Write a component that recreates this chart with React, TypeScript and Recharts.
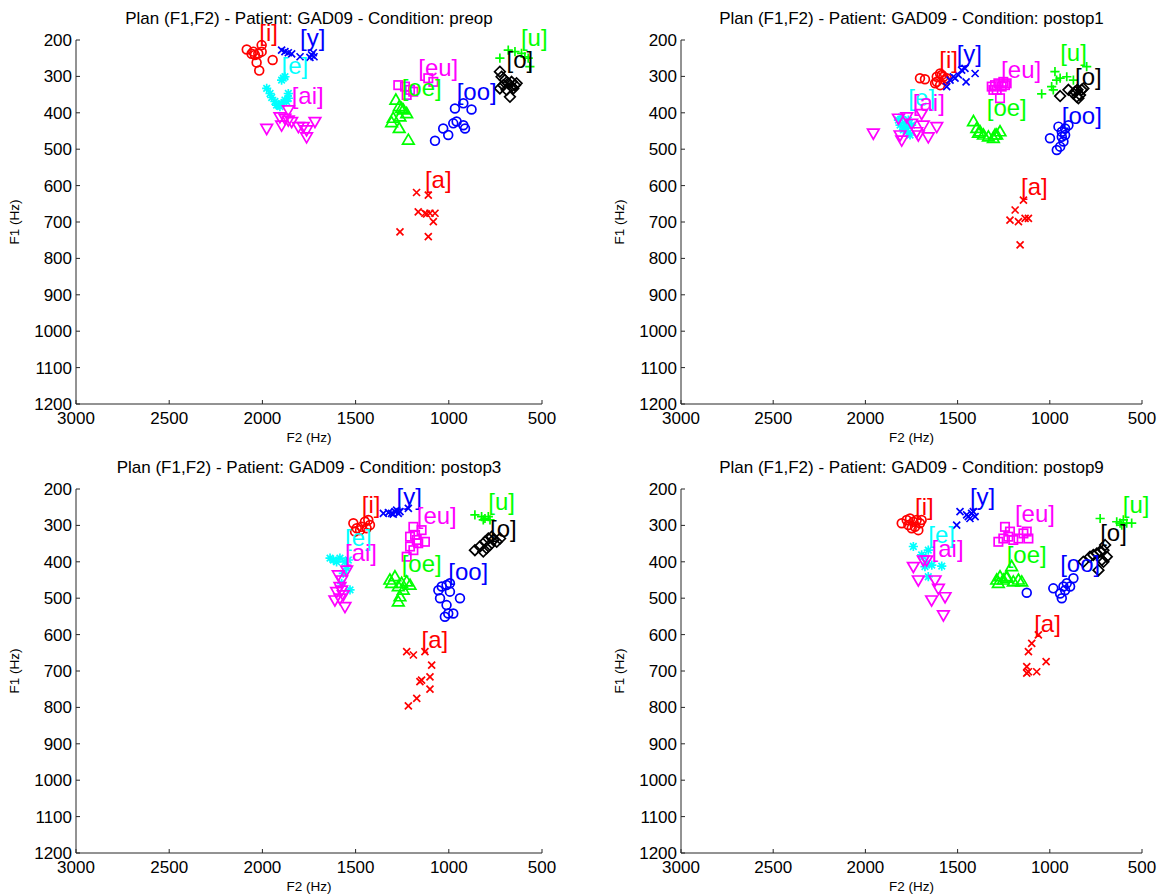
import React from 'react';
import { ScatterChart, Scatter, XAxis, YAxis, ReferenceDot } from 'recharts';

type Pt = [number, number]; // [F2, F1]
type Lbl = [string, number, number]; // [vowel, F2, F1]

const F2_TICKS = [3000, 2500, 2000, 1500, 1000, 500];
const F1_TICKS = [200, 300, 400, 500, 600, 700, 800, 900, 1000, 1100, 1200];
const PATIENT = 'GAD09';
const CONDITIONS = ['preop', 'postop1', 'postop3', 'postop9'];

// ---------- preop ----------
const PREOP_I: Pt[] = [[2084,226],[2049,232],[2022,237],[2004,214],[2040,241],[2004,232],[2031,262],[2017,284],[1945,255],[2058,238]];
const PREOP_Y: Pt[] = [[1897,228],[1879,232],[1861,235],[1843,238],[1798,246],[1736,241],[1727,235],[1723,246],[1745,248]];
const PREOP_E: Pt[] = [[1888,305],[1879,301],[1897,310],[1977,333],[1959,347],[1950,358],[1933,369],[1915,379],[1897,374],[1879,365],[1861,347],[1861,360],[1906,383],[1924,379],[1870,369]];
const PREOP_AI: Pt[] = [[1977,443],[1906,411],[1897,434],[1861,392],[1879,415],[1843,424],[1807,438],[1781,438],[1763,466],[1763,447],[1718,424],[1861,420]];
const PREOP_EU: Pt[] = [[1271,324],[1235,328],[1208,337],[1110,305],[1083,315],[1226,351],[1191,342]];
const PREOP_OE: Pt[] = [[1284,365],[1266,383],[1244,392],[1226,402],[1262,411],[1307,427],[1266,443],[1217,475],[1253,388],[1298,415]];
const PREOP_A: Pt[] = [[1173,619],[1110,626],[1164,672],[1128,676],[1101,676],[1074,676],[1083,699],[1262,727],[1110,740],[1119,678]];
const PREOP_OO: Pt[] = [[967,388],[922,374],[878,391],[958,424],[922,434],[913,443],[1030,443],[1003,461],[1074,477],[976,429]];
const PREOP_O: Pt[] = [[726,287],[717,301],[699,310],[681,319],[663,328],[645,324],[708,324],[690,337],[726,333],[672,356],[654,333],[636,319],[663,315]];
const PREOP_U: Pt[] = [[726,250],[681,228],[610,237],[574,250],[565,273],[592,246],[645,232]];
const PREOP_LABELS: Lbl[] = [['i',2017,186],['y',1798,198],['e',1897,275],['ai',1843,358],['eu',1164,281],['oe',1253,337],['oo',958,347],['u',613,198],['o',690,260],['a',1128,589]];

// ---------- postop1 ----------
const POST1_I: Pt[] = [[1704,305],[1677,308],[1613,315],[1595,292],[1577,301],[1622,319],[1595,324],[1568,310],[1559,305],[1613,301],[1586,296]];
const POST1_Y: Pt[] = [[1559,328],[1541,310],[1514,305],[1496,296],[1478,283],[1460,278],[1454,315],[1405,292],[1523,301]];
const POST1_E: Pt[] = [[1821,420],[1812,434],[1785,429],[1776,443],[1767,456],[1758,461],[1749,434],[1803,411],[1794,447],[1767,420]];
const POST1_AI: Pt[] = [[1957,456],[1821,415],[1812,461],[1803,475],[1776,411],[1749,429],[1713,461],[1695,402],[1686,434],[1659,466],[1613,438],[1722,452]];
const POST1_EU: Pt[] = [[1315,328],[1297,324],[1279,319],[1252,315],[1234,319],[1261,328],[1306,337],[1270,360],[1288,337],[1243,324]];
const POST1_OE: Pt[] = [[1414,424],[1396,443],[1378,452],[1360,461],[1333,466],[1306,470],[1288,461],[1270,452],[1297,461],[1387,456]];
const POST1_A: Pt[] = [[1143,640],[1188,667],[1216,695],[1170,699],[1134,690],[1116,690],[1161,763]];
const POST1_OO: Pt[] = [[999,470],[953,438],[935,452],[917,443],[899,434],[935,466],[926,479],[944,493],[962,502],[917,461]];
const POST1_O: Pt[] = [[944,354],[899,337],[872,347],[850,337],[836,351],[845,360],[827,337],[818,333],[854,356],[863,342]];
const POST1_U: Pt[] = [[1044,348],[990,328],[972,287],[963,310],[944,305],[908,301],[872,310],[800,273],[981,337]];
const POST1_LABELS: Lbl[] = [['i',1599,260],['y',1505,244],['eu',1264,287],['u',944,241],['o',863,305],['oo',935,412],['oe',1342,392],['e',1767,363],['ai',1743,377],['a',1156,608]];

// ---------- postop3 ----------
const POST3_I: Pt[] = [[1512,294],[1494,308],[1468,304],[1450,290],[1432,285],[1423,299],[1441,308],[1476,313],[1503,317]];
const POST3_Y: Pt[] = [[1351,267],[1324,265],[1307,267],[1289,262],[1271,267],[1280,258],[1262,262],[1217,253],[1298,269]];
const POST3_E: Pt[] = [[1637,390],[1619,395],[1584,390],[1557,400],[1548,418],[1566,432],[1530,477],[1575,459],[1539,395],[1602,400]];
const POST3_AI: Pt[] = [[1593,436],[1575,450],[1584,468],[1602,482],[1566,491],[1611,505],[1557,523],[1584,500],[1548,423],[1575,478]];
const POST3_EU: Pt[] = [[1190,304],[1146,313],[1208,331],[1181,326],[1128,345],[1164,349],[1190,368],[1226,386],[1172,340],[1208,358]];
const POST3_OE: Pt[] = [[1316,450],[1289,441],[1271,468],[1253,459],[1226,455],[1208,464],[1244,478],[1262,496],[1271,510],[1307,459]];
const POST3_A: Pt[] = [[1226,647],[1190,656],[1128,647],[1092,684],[1146,725],[1155,729],[1101,716],[1101,750],[1172,775],[1217,796]];
const POST3_OO: Pt[] = [[1056,478],[1038,468],[1012,464],[994,459],[1047,500],[994,482],[940,500],[1012,519],[1003,542],[976,542],[1021,551]];
const POST3_O: Pt[] = [[860,368],[833,358],[815,372],[806,345],[788,336],[779,354],[761,340],[743,345],[725,336],[770,331],[797,363]];
const POST3_U: Pt[] = [[860,271],[824,276],[806,281],[788,276],[779,285],[815,285]];
const POST3_LABELS: Lbl[] = [['i',1467,247],['y',1280,226],['eu',1172,278],['u',788,241],['o',779,313],['e',1557,340],['ai',1557,381],['oe',1253,409],['oo',1003,432],['a',1146,619]];

// ---------- postop9 ----------
const POST9_I: Pt[] = [[1803,294],[1776,285],[1758,281],[1740,290],[1722,285],[1704,294],[1731,304],[1749,308],[1713,313],[1695,285],[1767,299]];
const POST9_Y: Pt[] = [[1487,262],[1505,299],[1442,276],[1424,267],[1415,262],[1405,276],[1433,281],[1451,271]];
const POST9_E: Pt[] = [[1740,358],[1659,368],[1686,386],[1668,404],[1640,409],[1586,412],[1659,441],[1677,413],[1695,381]];
const POST9_AI: Pt[] = [[1740,413],[1686,395],[1713,450],[1622,450],[1604,473],[1641,505],[1568,496],[1577,546],[1668,395]];
const POST9_EU: Pt[] = [[1243,304],[1279,345],[1252,336],[1225,331],[1198,340],[1170,336],[1143,322],[1116,336],[1125,317],[1216,317]];
const POST9_OE: Pt[] = [[1288,450],[1270,441],[1279,459],[1252,450],[1234,441],[1207,413],[1198,455],[1170,450],[1152,455],[1234,445]];
const POST9_A: Pt[] = [[1062,601],[1098,624],[1116,647],[1020,674],[1125,688],[1116,702],[1071,702],[1125,706]];
const POST9_OO: Pt[] = [[1125,485],[981,473],[944,487],[935,500],[926,468],[908,459],[890,468],[872,445],[917,478]];
const POST9_O: Pt[] = [[818,400],[782,386],[764,381],[745,377],[727,372],[709,368],[700,354],[691,386],[718,395],[736,423],[709,400]];
const POST9_U: Pt[] = [[727,281],[637,290],[619,294],[601,285],[583,294],[556,294],[610,299]];
const POST9_LABELS: Lbl[] = [['i',1731,253],['y',1433,226],['eu',1189,274],['u',604,249],['o',727,326],['e',1659,331],['ai',1641,368],['oe',1234,386],['oo',944,409],['a',1085,574]];

const STYLE: Record<string, { color: string; marker: string }> = {
  i: { color: '#ff0000', marker: 'o' },
  y: { color: '#0000ff', marker: 'x' },
  e: { color: '#00ffff', marker: '*' },
  ai: { color: '#ff00ff', marker: 'v' },
  eu: { color: '#ff00ff', marker: 's' },
  oe: { color: '#00ff00', marker: '^' },
  a: { color: '#ff0000', marker: 'x' },
  oo: { color: '#0000ff', marker: 'o' },
  o: { color: '#000000', marker: 'd' },
  u: { color: '#00ff00', marker: '+' },
};

const FONT = "'Liberation Sans', Arial, Helvetica, sans-serif";
const AX = '#262626';
const SW = 1.7;

function Marker({ cx, cy, kind, color }: { cx: number; cy: number; kind: string; color: string }) {
  if (cx == null || cy == null) return null;
  const common = { fill: 'none', stroke: color, strokeWidth: SW };
  switch (kind) {
    case 'o':
      return <circle cx={cx} cy={cy} r={4.4} {...common} />;
    case 'x': {
      const d = 3.5;
      return <path d={`M${cx - d},${cy - d}L${cx + d},${cy + d}M${cx - d},${cy + d}L${cx + d},${cy - d}`} {...common} />;
    }
    case '+': {
      const d = 4.6;
      return <path d={`M${cx - d},${cy}L${cx + d},${cy}M${cx},${cy - d}L${cx},${cy + d}`} {...common} />;
    }
    case '*': {
      const d = 4.6, e = 3.3;
      return <path d={`M${cx - d},${cy}L${cx + d},${cy}M${cx},${cy - d}L${cx},${cy + d}M${cx - e},${cy - e}L${cx + e},${cy + e}M${cx - e},${cy + e}L${cx + e},${cy - e}`} {...common} />;
    }
    case 'v':
      return <path d={`M${cx - 5.8},${cy - 4}L${cx + 5.8},${cy - 4}L${cx},${cy + 6}Z`} {...common} />;
    case '^':
      return <path d={`M${cx - 5.8},${cy + 4}L${cx + 5.8},${cy + 4}L${cx},${cy - 6}Z`} {...common} />;
    case 's':
      return <rect x={cx - 4.2} y={cy - 4.2} width={8.4} height={8.4} {...common} />;
    case 'd':
      return <path d={`M${cx},${cy - 5.3}L${cx + 5.3},${cy}L${cx},${cy + 5.3}L${cx - 5.3},${cy}Z`} {...common} />;
    default:
      return null;
  }
}

type SeriesEntry = [string, Pt[]];

interface PanelProps {
  cond: string;
  series: SeriesEntry[];
  labels: Lbl[];
  left: number;
  top: number;
  yw: number;
  mr: number;
  mt: number;
  xh: number;
}

const W = 582;
const H = 447;

function Panel({ cond, series, labels, left, top, yw, mr, mt, xh }: PanelProps) {
  const plotL = yw;
  const plotR = W - mr;
  const plotT = mt;
  const plotB = H - xh;
  const cxp = (plotL + plotR) / 2;
  const cyp = (plotT + plotB) / 2;
  return (
    <div style={{ position: 'absolute', left, top, width: W, height: H }}>
      <ScatterChart width={W} height={H} margin={{ top: mt, right: mr, bottom: 0, left: 0 }}>
        <XAxis
          type="number"
          dataKey="f2"
          domain={[500, 3000]}
          reversed
          ticks={F2_TICKS}
          interval={0}
          height={xh}
          tickSize={-4}
          tickMargin={12}
          axisLine={{ stroke: AX, strokeWidth: 1 }}
          tickLine={{ stroke: AX }}
          tick={{ fontSize: 17, fill: '#000', fontFamily: FONT }}
        />
        <YAxis
          type="number"
          dataKey="f1"
          domain={[200, 1200]}
          reversed
          ticks={F1_TICKS}
          interval={0}
          width={yw}
          tickSize={-4}
          tickMargin={8}
          axisLine={{ stroke: AX, strokeWidth: 1 }}
          tickLine={{ stroke: AX }}
          tick={{ fontSize: 17, fill: '#000', fontFamily: FONT }}
        />
        {series.map(([v, pts]) => (
          <Scatter
            key={v}
            name={v}
            data={pts.map(([f2, f1]) => ({ f2, f1 }))}
            isAnimationActive={false}
            shape={(p: any) => <Marker cx={p.cx} cy={p.cy} kind={STYLE[v].marker} color={STYLE[v].color} />}
          />
        ))}
        {labels.map(([v, f2, f1]) => (
          <ReferenceDot
            key={'lbl-' + v}
            x={f2}
            y={f1}
            ifOverflow="visible"
            shape={(p: any) => (
              <text x={p.cx} y={p.cy} dy="0.27em" fontSize={24} fontFamily={FONT} fill={STYLE[v].color} textAnchor="start">
                {'[' + v + ']'}
              </text>
            )}
          />
        ))}
      </ScatterChart>
      <div
        style={{
          position: 'absolute', left: cxp, top: plotT - 22, transform: 'translate(-50%, -50%)',
          fontFamily: FONT, fontSize: 17, lineHeight: '17px', whiteSpace: 'nowrap', color: '#000',
        }}
      >
        {`Plan (F1,F2) - Patient: ${PATIENT} - Condition: ${cond}`}
      </div>
      <div
        style={{
          position: 'absolute', left: cxp, top: plotB + 34, transform: 'translate(-50%, -50%)',
          fontFamily: FONT, fontSize: 13.5, lineHeight: '14px', whiteSpace: 'nowrap', color: '#000',
        }}
      >
        F2 (Hz)
      </div>
      <div
        style={{
          position: 'absolute', left: plotL - 61, top: cyp, transform: 'translate(-50%, -50%) rotate(-90deg)',
          fontFamily: FONT, fontSize: 13.5, lineHeight: '14px', whiteSpace: 'nowrap', color: '#000',
        }}
      >
        F1 (Hz)
      </div>
    </div>
  );
}

const PREOP_SERIES: SeriesEntry[] = [['i', PREOP_I], ['y', PREOP_Y], ['e', PREOP_E], ['ai', PREOP_AI], ['eu', PREOP_EU], ['oe', PREOP_OE], ['a', PREOP_A], ['oo', PREOP_OO], ['o', PREOP_O], ['u', PREOP_U]];
const POST1_SERIES: SeriesEntry[] = [['i', POST1_I], ['y', POST1_Y], ['e', POST1_E], ['ai', POST1_AI], ['eu', POST1_EU], ['oe', POST1_OE], ['a', POST1_A], ['oo', POST1_OO], ['o', POST1_O], ['u', POST1_U]];
const POST3_SERIES: SeriesEntry[] = [['i', POST3_I], ['y', POST3_Y], ['e', POST3_E], ['ai', POST3_AI], ['eu', POST3_EU], ['oe', POST3_OE], ['a', POST3_A], ['oo', POST3_OO], ['o', POST3_O], ['u', POST3_U]];
const POST9_SERIES: SeriesEntry[] = [['i', POST9_I], ['y', POST9_Y], ['e', POST9_E], ['ai', POST9_AI], ['eu', POST9_EU], ['oe', POST9_OE], ['a', POST9_A], ['oo', POST9_OO], ['o', POST9_O], ['u', POST9_U]];

export default function App() {
  return (
    <div style={{ position: 'absolute', left: 0, top: 0, width: 1164, height: 895, background: '#fff', overflow: 'hidden' }}>
      <Panel cond={CONDITIONS[0]} series={PREOP_SERIES} labels={PREOP_LABELS} left={0} top={0} yw={76} mr={40} mt={40} xh={43} />
      <Panel cond={CONDITIONS[1]} series={POST1_SERIES} labels={POST1_LABELS} left={582} top={0} yw={99} mr={22} mt={40} xh={43} />
      <Panel cond={CONDITIONS[2]} series={POST3_SERIES} labels={POST3_LABELS} left={0} top={448} yw={76} mr={40} mt={41} xh={42} />
      <Panel cond={CONDITIONS[3]} series={POST9_SERIES} labels={POST9_LABELS} left={582} top={448} yw={99} mr={22} mt={41} xh={42} />
    </div>
  );
}
